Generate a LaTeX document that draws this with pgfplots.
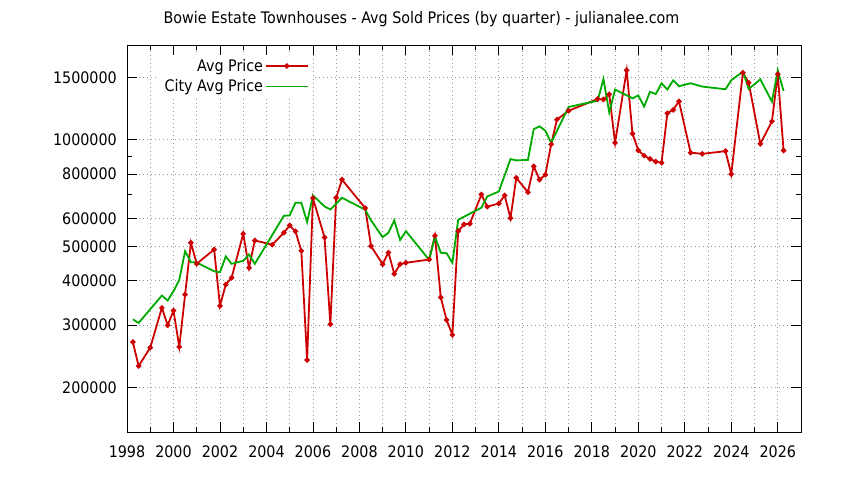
\documentclass[border=0pt]{standalone}
\usepackage{pgfplots}
\pgfplotsset{compat=1.18}
\usepackage{fontspec}
\setmainfont{DejaVu Sans Condensed}
\definecolor{redline}{RGB}{204,0,0}
\definecolor{greenline}{RGB}{0,170,0}
\definecolor{gridgray}{RGB}{150,150,150}
\begin{document}
\begin{tikzpicture}
\path[use as bounding box] (0,0) rectangle (844bp,480bp);
\node[font=\fontsize{15.9bp}{18bp}\selectfont, anchor=base] at (421.5bp,456.5bp) {Bowie Estate Townhouses - Avg Sold Prices (by quarter) - julianalee.com};
\begin{axis}[
  at={(127bp,48bp)}, anchor=south west,
  scale only axis, width=674bp, height=387bp,
  xmin=1998, xmax=2027,
  ymode=log, ymin=150000, ymax=1850000,
  xtick={1998,2000,...,2026},
  xticklabels={1998,2000,2002,2004,2006,2008,2010,2012,2014,2016,2018,2020,2022,2024,2026},
  minor xtick={1999,2001,...,2025},
  ytick={200000,300000,400000,500000,600000,800000,1000000,1500000},
  yticklabels={200000,300000,400000,500000,600000,800000,1000000,1500000},
  minor ytick={700000,900000},
  tick align=inside,
  major tick length=10bp, minor tick length=5bp,
  every tick/.style={black, line width=0.8bp},
  axis line style={black, line width=0.9bp},
  xmajorgrids, xminorgrids, ymajorgrids,
  grid style={gridgray, line width=0.8bp, dash pattern=on 1bp off 3bp},
  minor grid style={gridgray, line width=0.8bp, dash pattern=on 1bp off 3bp},
  ticklabel style={font=\fontsize{15.9bp}{18bp}\selectfont, inner sep=0pt},
  yticklabel style={xshift=-10bp},
  xticklabel style={yshift=-14bp},
  legend plot pos=right,
  legend cell align=right,
  legend image code/.code={\draw[mark repeat=2,mark phase=2,#1] plot coordinates {(0bp,0bp) (21bp,0bp) (42bp,0bp)};},
  legend style={draw=none, fill=white, at={(0.276,0.974)}, anchor=north east,
    font=\fontsize{15.9bp}{18bp}\selectfont, row sep=3bp, inner xsep=4bp, inner ysep=2bp},
]
\addplot[redline, line width=1.8bp, mark=*, mark size=1.7bp] coordinates {
(1998.25,269000) (1998.5,230200) (1999.0,259300) (1999.5,335700) (1999.75,299800)
(2000.0,329800) (2000.25,260600) (2000.5,366000) (2000.75,512300) (2001.0,446900)
(2001.75,490500) (2002.0,340100) (2002.25,390700) (2002.5,408100) (2003.0,543000)
(2003.25,435500) (2003.5,520000) (2004.25,505700) (2004.75,546800) (2005.0,573400)
(2005.25,551400) (2005.5,486300) (2005.75,239400) (2006.0,684300) (2006.5,530100)
(2006.75,301800) (2007.0,686100) (2007.25,771700) (2008.25,641600) (2008.5,501100)
(2009.0,445800) (2009.25,480900) (2009.5,418800) (2009.75,445800) (2010.0,449800)
(2011.0,459500) (2011.25,536000) (2011.5,359600) (2011.75,310500) (2012.0,281700)
(2012.25,552400) (2012.5,577200) (2012.75,579700) (2013.25,701000) (2013.5,647400)
(2014.0,661400) (2014.25,696600) (2014.5,601200) (2014.75,780600) (2015.25,711500)
(2015.5,841300) (2015.75,771700) (2016.0,797000) (2016.25,970500) (2016.5,1140000)
(2017.0,1206600) (2018.25,1302700) (2018.5,1298500) (2018.75,1343000) (2019.0,980000)
(2019.5,1570000) (2019.75,1040000) (2020.0,933400) (2020.25,901800) (2020.5,883200)
(2020.75,868000) (2021.0,861000) (2021.25,1188000) (2021.5,1214000) (2021.75,1283000)
(2022.25,919600) (2022.75,912400) (2023.75,928500) (2024.0,800100) (2024.5,1545000)
(2024.75,1447000) (2025.25,973700) (2025.75,1127000) (2026.0,1530000) (2026.25,932200)
};
\addlegendentry{Avg Price}
\addplot[greenline, line width=1.8bp, mark=none] coordinates {
(1998.25,311700) (1998.5,304500) (1999.5,363700) (1999.75,352100) (2000.0,374000)
(2000.25,402700) (2000.5,485100) (2000.75,451600) (2001.0,450700) (2001.75,425900)
(2002.0,423100) (2002.25,468600) (2002.5,446900) (2003.0,455600) (2003.25,474800)
(2003.5,446900) (2004.75,610600) (2005.0,611800) (2005.25,664500) (2005.5,664500)
(2005.75,585800) (2006.0,696600) (2006.5,648600) (2006.75,636100) (2007.25,686100)
(2008.25,634900) (2008.5,592300) (2009.0,531200) (2009.25,546800) (2009.5,592300)
(2009.75,521700) (2010.0,552400) (2011.0,458600) (2011.25,533600) (2011.5,480000)
(2011.75,478700) (2012.0,449800) (2012.25,595000) (2013.25,643200) (2013.5,692100)
(2014.0,714800) (2014.5,882000) (2014.75,874500) (2015.25,877400) (2015.5,1071000)
(2015.75,1091000) (2016.0,1059600) (2016.25,980000) (2017.0,1237000) (2018.25,1288000)
(2018.5,1483000) (2018.75,1193000) (2019.0,1385000) (2019.75,1309000) (2020.0,1333000)
(2020.25,1240000) (2020.5,1364000) (2020.75,1345000) (2021.0,1443000) (2021.25,1385000)
(2021.5,1471000) (2021.75,1415000) (2022.25,1443000) (2022.75,1412000) (2023.75,1388000)
(2024.0,1471000) (2024.5,1557000) (2024.75,1390000) (2025.25,1480000) (2025.75,1281000)
(2026.0,1570000) (2026.25,1373000)
};
\addlegendentry{City Avg Price}
\end{axis}
\end{tikzpicture}
\end{document}
